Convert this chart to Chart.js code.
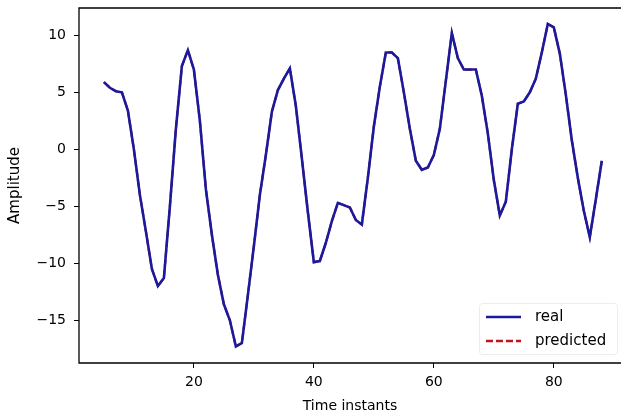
<!DOCTYPE html>
<html>
<head>
<meta charset="utf-8">
<script src="https://cdn.jsdelivr.net/npm/chart.js@4/dist/chart.umd.min.js"></script>
<style>
  html, body { margin: 0; padding: 0; background: #fff; overflow: hidden; }
  #wrap { width: 621px; height: 416px; }
</style>
</head>
<body>
<div id="wrap"><canvas id="ampChart" width="621" height="416"></canvas></div>
<script>
// values
const timeInstants = [5, 6, 7, 8, 9, 10, 11, 12, 13, 14, 15, 16, 17, 18, 19, 20, 21, 22, 23, 24,
    25, 26, 27, 28, 29, 30, 31, 32, 33, 34, 35, 36, 37, 38, 39, 40, 41, 42, 43, 44,
    45, 46, 47, 48, 49, 50, 51, 52, 53, 54, 55, 56, 57, 58, 59, 60, 61, 62, 63, 64,
    65, 66, 67, 68, 69, 70, 71, 72, 73, 74, 75, 76, 77, 78, 79, 80, 81, 82, 83, 84,
    85, 86, 87, 88];
const realValues = [5.9, 5.4, 5.1, 5.0, 3.4, 0.0, -4.0, -7.2, -10.5, -12.0, -11.3, -5.0, 1.8, 7.3, 8.7, 7.0, 2.5, -3.5, -7.5, -11.0,
    -13.6, -15.0, -17.3, -17.0, -12.8, -8.5, -4.0, -0.5, 3.3, 5.2, 6.2, 7.1, 3.8, -0.8, -5.5, -9.9, -9.8, -8.2, -6.3, -4.7,
    -4.9, -5.1, -6.2, -6.6, -2.5, 2.0, 5.5, 8.5, 8.5, 8.0, 5.0, 1.8, -1.0, -1.8, -1.6, -0.5, 1.8, 6.0, 10.2, 8.0,
    7.0, 7.0, 7.0, 4.7, 1.4, -2.7, -5.8, -4.6, 0.0, 4.0, 4.2, 5.0, 6.2, 8.5, 11.0, 10.7, 8.4, 4.8, 0.8, -2.5,
    -5.4, -7.7, -4.4, -1.0];
const predictedValues = [5.9, 5.4, 5.1, 5.0, 3.4, 0.0, -4.0, -7.2, -10.5, -12.0, -11.3, -5.0, 1.8, 7.3, 8.7, 7.0, 2.5, -3.5, -7.5, -11.0,
    -13.6, -15.0, -17.3, -17.0, -12.8, -8.5, -4.0, -0.5, 3.3, 5.2, 6.2, 7.1, 3.8, -0.8, -5.5, -9.9, -9.8, -8.2, -6.3, -4.7,
    -4.9, -5.1, -6.2, -6.6, -2.5, 2.0, 5.5, 8.5, 8.5, 8.0, 5.0, 1.8, -1.0, -1.8, -1.6, -0.5, 1.8, 6.0, 10.2, 8.0,
    7.0, 7.0, 7.0, 4.7, 1.4, -2.7, -5.8, -4.6, 0.0, 4.0, 4.2, 5.0, 6.2, 8.5, 11.0, 10.7, 8.4, 4.8, 0.8, -2.5,
    -5.4, -7.7, -4.4, -1.0];
const xTicks = [20, 40, 60, 80];
const yTicks = [-15, -10, -5, 0, 5, 10];

const FONT = 'DejaVu Sans';
const realColor = '#1c1a9c';
const predColor = '#c0141e';

function toPoints(xs, ys) {
    return xs.map((x, i) => ({ x: x, y: ys[i] }));
}

function minusSign(v) {
    return v < 0 ? '\u2212' + Math.abs(v) : String(v);
}

// spines: the right one is cut off in the reference picture
const framePlugin = {
    id: 'frame',
    afterDatasetsDraw(chart) {
        const a = chart.chartArea;
        const c = chart.ctx;
        c.save();
        c.strokeStyle = '#000';
        c.lineWidth = 1.3;
        c.beginPath();
        c.moveTo(a.right + 2, a.top);
        c.lineTo(a.left, a.top);
        c.lineTo(a.left, a.bottom);
        c.lineTo(a.right + 2, a.bottom);
        c.stroke();
        c.restore();
    }
};

// legend in the lower right corner of the axes
const legendBox = {
    id: 'legendBox',
    afterDraw(chart) {
        const c = chart.ctx;
        c.save();
        c.fillStyle = 'rgba(255,255,255,0.8)';
        c.strokeStyle = '#ececec';
        c.lineWidth = 1;
        c.beginPath();
        c.roundRect(479.5, 303.5, 138, 51, 3);
        c.fill();
        c.stroke();

        c.lineWidth = 2.4;
        c.strokeStyle = realColor;
        c.beginPath();
        c.moveTo(486, 317);
        c.lineTo(521, 317);
        c.stroke();

        c.strokeStyle = predColor;
        c.setLineDash([7, 3]);
        c.beginPath();
        c.moveTo(486, 341);
        c.lineTo(521, 341);
        c.stroke();
        c.setLineDash([]);

        c.fillStyle = '#000';
        c.font = '15px "' + FONT + '"';
        c.textBaseline = 'middle';
        c.fillText('real', 535, 317);
        c.fillText('predicted', 535, 341);
        c.restore();
    }
};

// keep the plot box where the reference has it
function fitY(scale) {
    scale.width = 79;
    scale.paddingTop = 0;
    scale.paddingBottom = 0;
}
function fitX(scale) {
    scale.height = 53;
    scale.paddingLeft = 0;
    scale.paddingRight = 0;
}

const ctx = document.getElementById('ampChart').getContext('2d');
const ampChart = new Chart(ctx, {
    type: 'line',
    data: {
        datasets: [{
            label: 'real',
            data: toPoints(timeInstants, realValues),
            borderColor: realColor,
            borderWidth: 2.6,
            pointRadius: 0,
            tension: 0,
            fill: false
        }, {
            label: 'predicted',
            data: toPoints(timeInstants, predictedValues),
            borderColor: predColor,
            borderWidth: 2.2,
            borderDash: [7, 3],
            pointRadius: 0,
            tension: 0,
            fill: false
        }]
    },
    options: {
        responsive: false,
        animation: false,
        devicePixelRatio: 1,
        layout: { padding: { left: 0, top: 8, right: 0, bottom: 0 } },
        scales: {
            x: {
                type: 'linear',
                min: 0.85,
                max: 91.2,
                afterBuildTicks: function(scale) {
                    scale.ticks = xTicks.map(v => ({ value: v }));
                },
                afterFit: fitX,
                grid: { drawOnChartArea: false, drawTicks: true, tickLength: 5, color: '#000' },
                border: { display: false },
                ticks: {
                    color: '#000',
                    padding: 6,
                    maxRotation: 0,
                    font: { family: FONT, size: 14 },
                    callback: function(value) { return minusSign(value); }
                },
                title: {
                    display: true,
                    text: 'Time instants',
                    color: '#000',
                    font: { family: FONT, size: 14 },
                    padding: { top: 0, bottom: 1 }
                }
            },
            y: {
                min: -18.75,
                max: 12.4,
                afterBuildTicks: function(scale) {
                    scale.ticks = yTicks.map(v => ({ value: v }));
                },
                afterFit: fitY,
                grid: { drawOnChartArea: false, drawTicks: true, tickLength: 5, color: '#000' },
                border: { display: false },
                ticks: {
                    color: '#000',
                    padding: 8,
                    font: { family: FONT, size: 14 },
                    callback: function(value) { return minusSign(value); }
                },
                title: {
                    display: true,
                    text: 'Amplitude',
                    color: '#000',
                    font: { family: FONT, size: 15 },
                    padding: { top: 6, bottom: 0 }
                }
            }
        },
        plugins: {
            legend: { display: false },
            tooltip: { enabled: false }
        }
    },
    plugins: [framePlugin, legendBox]
});
</script>
</body>
</html>
